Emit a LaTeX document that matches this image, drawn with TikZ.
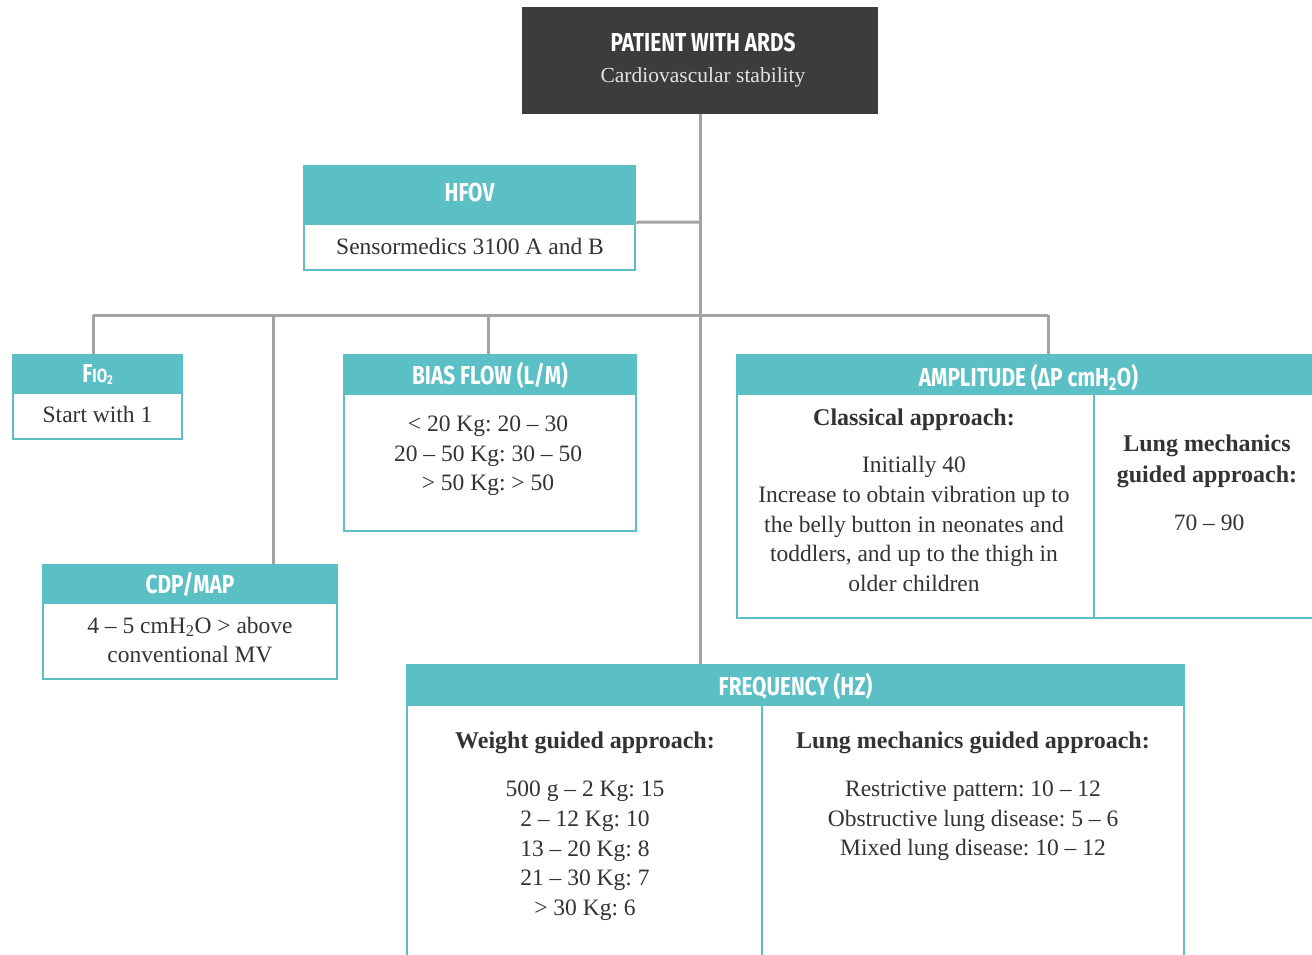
\documentclass[tikz,border=0pt]{standalone}
\usepackage{fontspec}
\setmainfont{Liberation Serif}
\newfontfamily\hfont[FakeStretch=0.8]{Fira Sans}
\definecolor{tealc}{HTML}{5BBFC6}
\definecolor{darkc}{HTML}{3C3C3E}
\definecolor{linec}{HTML}{A3A3A3}
\definecolor{txtc}{HTML}{333333}
\definecolor{subc}{HTML}{E2E2E2}
\frenchspacing
\begin{document}
\begin{tikzpicture}[x=1pt,y=-1pt,
  hdr/.style={fill=tealc, draw=tealc, line width=2.5pt, inner sep=0pt},
  bodybox/.style={draw=tealc, line width=2.5pt, fill=white, inner sep=0pt},
  htxt/.style={text=white, font=\hfont\bfseries\fontsize{26}{28}\selectfont, inner sep=0pt},
  txt/.style={text=txtc, font=\fontsize{23.5}{29.7}\selectfont, align=center, inner sep=0pt},
  btxt/.style={text=txtc, font=\bfseries\fontsize{24}{31}\selectfont, align=center, inner sep=0pt},
  conn/.style={draw=linec, line width=3pt},
  divl/.style={draw=tealc, line width=2.5pt}]
\useasboundingbox (0,0) rectangle (1312,954);
\fill[white] (0,0) rectangle (1312,954);

\node[fill=darkc, minimum width=356pt, minimum height=107pt, inner sep=0pt] (top) at (700,60.5) {};
\coordinate (busL) at (93,315);
\coordinate (busR) at (1048,315);
\coordinate (dCDP) at (273,315);
\coordinate (dBias) at (488,315);

% boxes
\node[bodybox, minimum width=331pt, minimum height=104pt] (hfov) at (469.5,218) {};
\node[hdr, minimum width=331pt, minimum height=58pt] (hfovh) at (469.5,195) {};

\node[bodybox, minimum width=169pt, minimum height=83pt] (fio) at (97.5,397.5) {};
\node[hdr, minimum width=169pt, minimum height=37pt] (fioh) at (97.5,374) {};

\node[bodybox, minimum width=292pt, minimum height=175pt] (bias) at (490,443.5) {};
\node[hdr, minimum width=292pt, minimum height=38pt] (biash) at (490,374.5) {};

\node[bodybox, minimum width=583pt, minimum height=262pt] (amp) at (1028.5,487) {};
\node[hdr, minimum width=583pt, minimum height=38pt] (amph) at (1028.5,374.5) {};

\node[bodybox, minimum width=294pt, minimum height=113pt] (cdp) at (190,622.5) {};
\node[hdr, minimum width=294pt, minimum height=37pt] (cdph) at (190,584) {};

\node[bodybox, minimum width=777pt, minimum height=300pt] (freq) at (795.5,815) {};
\node[hdr, minimum width=777pt, minimum height=39pt] (freqh) at (795.5,685) {};

% dividers
\draw[divl] (1094,394) -- (1094,619);
\draw[divl] (762,705) -- (762,960);

% connectors
\draw[conn] (top.south) -- (top.south |- freqh.north);
\draw[conn] (hfovh.south east) ++(0,-3) -- (700,222);
\draw[conn] (busL) -- (busR);
\draw[conn] (busL) -- (busL |- fioh.north);
\draw[conn] (dCDP) -- (dCDP |- cdph.north);
\draw[conn] (dBias) -- (dBias |- biash.north);
\draw[conn] (busR) -- (busR |- amph.north);

% texts
\node[htxt] (t1) at (703,42) {PATIENT WITH ARDS};
\node[text=subc, font=\fontsize{21.5}{24}\selectfont, inner sep=0pt] (t2) at (703,77) {Cardiovascular stability};

\node[htxt] (th) at (469.5,192) {HFOV};
\node[txt] (tb) at (470,246) {Sensormedics 3100 A and B};

\node[htxt] (tf) at (97.5,374) {F{\fontsize{19}{20}\selectfont IO\raisebox{-2pt}{\fontsize{13}{13}\selectfont 2}}};
\node[txt] (tfb) at (97.5,414) {Start with 1};

\node[htxt] (tbh) at (490,375) {BIAS FLOW (L/M)};
\node[txt] (tbb) at (488,456) {< 20 Kg: 20 -- 30\\20 -- 50 Kg: 30 -- 50\\> 50 Kg: > 50};

\node[htxt] (tah) at (1028.5,377) {AMPLITUDE ({\hfont\bfseries\char"0394}P cmH\textsubscript{2}O)};
\node[btxt] (ta1) at (914,420) {Classical approach:};
\node[txt] (ta2) at (914,524) {Initially 40\\Increase to obtain vibration up to\\the belly button in neonates and\\toddlers, and up to the thigh in\\older children};
\node[btxt] (ta3) at (1207,461.5) {Lung mechanics\\guided approach:};
\node[txt] (ta4) at (1209,523) {70 -- 90};

\node[htxt] (tch) at (190,584) {CDP/MAP};
\node[txt] (tcb) at (190,640) {4 -- 5 cmH\textsubscript{2}O > above\\conventional MV};

\node[htxt] (tqh) at (795.5,686) {FREQUENCY (HZ)};
\node[btxt] (tq1) at (585,743) {Weight guided approach:};
\node[txt] (tq2) at (585,851) {500 g -- 2 Kg: 15\\2 -- 12 Kg: 10\\13 -- 20 Kg: 8\\21 -- 30 Kg: 7\\> 30 Kg: 6};
\node[btxt] (tq3) at (973,743) {Lung mechanics guided approach:};
\node[txt] (tq4) at (973,821) {Restrictive pattern: 10 -- 12\\Obstructive lung disease: 5 -- 6\\Mixed lung disease: 10 -- 12};
\end{tikzpicture}
\end{document}
